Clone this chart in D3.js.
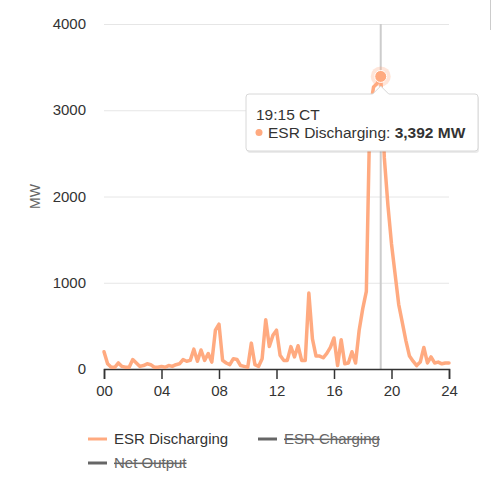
<!DOCTYPE html>
<html>
<head>
<meta charset="utf-8">
<script src="https://cdn.jsdelivr.net/npm/d3@7"></script>
<style>
  body { margin: 0; background: #fff; font-family: "Liberation Sans", Arial, sans-serif; }
  svg text { font-family: "Liberation Sans", Arial, sans-serif; }
</style>
</head>
<body>
<svg width="500" height="492"></svg>
<script>
// 15-minute ESR discharging output, 00:00 .. 24:00 (MW)
var discharging = [
  200, 60, 20, 20,
  70, 30, 20, 20,
  110, 70, 30, 40,
  60, 50, 20, 20,
  30, 20, 40, 30,
  50, 60, 110, 90,
  100, 230, 90, 220,
  100, 180, 80, 450,
  520, 100, 70, 50,
  120, 110, 40, 30,
  20, 300, 50, 30,
  120, 570, 260, 390,
  450, 160, 100, 100,
  260, 140, 270, 100,
  100, 880, 350, 150,
  150, 130, 180, 250,
  360, 40, 340, 60,
  70, 200, 70, 450,
  700, 900, 3000, 3270,
  3310, 3392, 2450, 1900,
  1450, 1100, 750, 540,
  330, 150, 90, 40,
  80, 250, 70, 140,
  70, 80, 60, 70,
  70
];
var yTicks = [0, 1000, 2000, 3000, 4000];
var xTicks = [0, 4, 8, 12, 16, 20, 24];
var legendItems = ["ESR Discharging", "ESR Charging", "Net Output"];
var hoverIndex = 77; // 19:15

var svg = d3.select("svg"),
    margin = {left: 104, right: 51, top: 24, bottom: 123},
    width = +svg.attr("width"),
    height = +svg.attr("height");

var x = d3.scaleLinear()
    .domain([0, 24])
    .range([margin.left, width - margin.right]);

var y = d3.scaleLinear()
    .domain([0, 4000])
    .range([height - margin.bottom, margin.top]);

var orange = "#ffaa80";

// grid
svg.append("g")
    .selectAll("line")
    .data(yTicks)
    .join("line")
    .attr("x1", x(0))
    .attr("x2", x(24))
    .attr("y1", d => y(d) + 0.5)
    .attr("y2", d => y(d) + 0.5)
    .attr("stroke", "#e6e6e6");

// y labels
svg.append("g")
    .selectAll("text")
    .data(yTicks)
    .join("text")
    .attr("x", 86)
    .attr("y", d => y(d) + 5)
    .attr("text-anchor", "end")
    .attr("font-size", 15)
    .attr("fill", "#333")
    .text(d => d);

svg.append("text")
    .attr("transform", "translate(40," + y(2000) + ") rotate(-90)")
    .attr("text-anchor", "middle")
    .attr("font-size", 14)
    .attr("fill", "#666")
    .text("MW");

// crosshair
svg.append("line")
    .attr("x1", x(hoverIndex / 4))
    .attr("x2", x(hoverIndex / 4))
    .attr("y1", y(4000))
    .attr("y2", y(0))
    .attr("stroke", "#cccccc")
    .attr("stroke-width", 2);

// x axis
var xAxis = d3.axisBottom(x)
    .tickValues(xTicks)
    .tickSize(10)
    .tickPadding(6)
    .tickFormat(d => d3.format("02d")(d));

var gX = svg.append("g")
    .attr("transform", "translate(0," + y(0) + ")")
    .call(xAxis);
gX.select(".domain").attr("stroke", "#333").attr("stroke-width", 1.5);
gX.selectAll(".tick line").attr("stroke", "#333").attr("stroke-width", 1.5);
gX.selectAll(".tick text")
    .attr("font-size", 15)
    .attr("fill", "#333")
    .attr("font-family", "Liberation Sans, Arial, sans-serif");

// line
var line = d3.line()
    .x((d, i) => x(i / 4))
    .y(d => y(d));

svg.append("path")
    .datum(discharging)
    .attr("fill", "none")
    .attr("stroke", orange)
    .attr("stroke-width", 3.5)
    .attr("stroke-linejoin", "round")
    .attr("stroke-linecap", "round")
    .attr("d", line);

// hover marker
var hx = x(hoverIndex / 4), hy = y(discharging[hoverIndex]);
svg.append("circle")
    .attr("cx", hx).attr("cy", hy).attr("r", 10)
    .attr("fill", orange).attr("opacity", 0.3);
svg.append("circle")
    .attr("cx", hx).attr("cy", hy).attr("r", 6)
    .attr("fill", orange).attr("stroke", "#fff").attr("stroke-width", 1);

// tooltip
var tip = svg.append("g").attr("transform", "translate(246,94)");
var tw = 232, th = 57, ax = hx - 246;
var tipPath = "M3,0 L" + (ax - 8) + ",0 L" + ax + ",-8 L" + (ax + 8) + ",0 L" + (tw - 3) + ",0 Q" + tw + ",0 " + tw + ",3 L" + tw + "," + (th - 3) +
    " Q" + tw + "," + th + " " + (tw - 3) + "," + th + " L3," + th + " Q0," + th + " 0," + (th - 3) + " L0,3 Q0,0 3,0 Z";
tip.append("path")
    .attr("d", tipPath)
    .attr("transform", "translate(1,2)")
    .attr("fill", "#000").attr("opacity", 0.08);
tip.append("path")
    .attr("d", tipPath)
    .attr("fill", "#fff")
    .attr("stroke", "#d8d8d8");
tip.append("text")
    .attr("x", 10).attr("y", 26)
    .attr("font-size", 15.5).attr("fill", "#333")
    .text("19:15 CT");
tip.append("circle")
    .attr("cx", 13).attr("cy", 38.5).attr("r", 3.5)
    .attr("fill", orange);
var t2 = tip.append("text")
    .attr("x", 22).attr("y", 44)
    .attr("font-size", 15.5).attr("fill", "#333");
t2.append("tspan").text(legendItems[0] + ": ");
t2.append("tspan").attr("font-weight", "bold").text(d3.format(",")(discharging[hoverIndex]) + " MW");

// legend
var legend = [
  {name: legendItems[0], x: 88, y: 439, color: orange, hidden: false},
  {name: legendItems[1], x: 258, y: 439, color: "#666", hidden: true},
  {name: legendItems[2], x: 88, y: 463, color: "#666", hidden: true}
];
var lg = svg.append("g")
    .selectAll("g")
    .data(legend)
    .join("g")
    .attr("transform", d => "translate(" + d.x + "," + d.y + ")");
lg.append("line")
    .attr("x1", 0).attr("x2", 19)
    .attr("stroke", d => d.color)
    .attr("stroke-width", 3);
lg.append("text")
    .attr("x", 26).attr("y", 5)
    .attr("font-size", 15)
    .attr("fill", d => d.hidden ? "#666" : "#333")
    .attr("text-decoration", d => d.hidden ? "line-through" : null)
    .text(d => d.name);

// frame edge at right
svg.append("line")
    .attr("x1", 490.5).attr("x2", 490.5)
    .attr("y1", 0).attr("y2", 30)
    .attr("stroke", "#ccc");
</script>
</body>
</html>
